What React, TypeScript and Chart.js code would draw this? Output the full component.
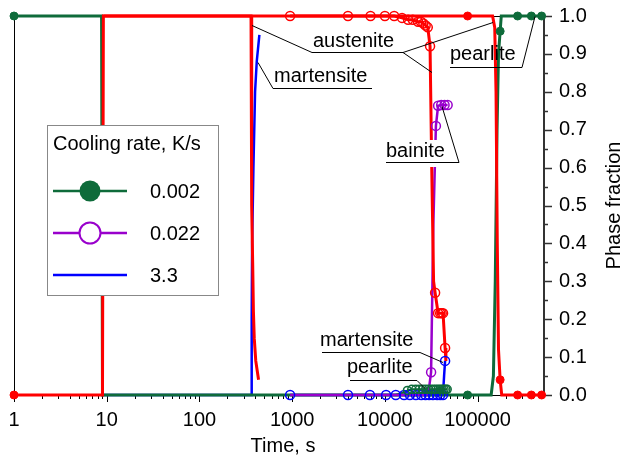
import React, { useEffect, useRef } from 'react';
import { Chart, registerables } from 'chart.js';

Chart.register(...registerables);

const FONT = '"Liberation Sans", Arial, Helvetica, sans-serif';
const RED = '#ff0000';
const GREEN = '#0e6b3a';
const PURPLE = '#9900cc';
const BLUE = '#0000ff';

// ---- axes ----
const xMin = 1;
const xMax = 520000;
const xMajorTicks = [1, 10, 100, 1000, 10000, 100000];
const xMinorMultipliers = [2, 3, 4, 5, 6, 7, 8, 9];
const yTicks = [0, 0.1, 0.2, 0.3, 0.4, 0.5, 0.6, 0.7, 0.8, 0.9, 1.0];
const yMinorTicks = [0.05, 0.15, 0.25, 0.35, 0.45, 0.55, 0.65, 0.75, 0.85, 0.95];

// ---- legend ----
const legendTitle = 'Cooling rate, K/s';
const rateLabels = ['0.002', '0.022', '3.3'];

// ---- cooling rate 0.002 K/s: austenite (red) & pearlite (green) ----
const t002Aus = [1, 9.0, 9.2, 78000, 145000, 153000, 158000, 163000, 168000, 175000, 182000, 270000, 380000, 490000];
const f002Aus = [0, 0, 1, 1, 1, 0.97, 0.8, 0.4, 0.12, 0.04, 0, 0, 0, 0];
const t002AusMk = [1, 78000, 175000, 270000, 380000, 490000];
const f002AusMk = [0, 1, 0.04, 0, 0, 0];
const t002Prl = [1, 8.8, 9.0, 78000, 140000, 148000, 155000, 162000, 168000, 175000, 180000, 270000, 380000, 490000];
const f002Prl = [1, 1, 0, 0, 0, 0.05, 0.3, 0.7, 0.9, 0.96, 1, 1, 1, 1];
const t002PrlMk = [1, 78000, 175000, 270000, 380000, 490000];
const f002PrlMk = [1, 0, 0.96, 1, 1, 1];

// ---- cooling rate 0.022 K/s ----
const t022Aus = [950, 4000, 7000, 10000, 12600, 15300, 17800, 20000, 22800, 24500, 26000, 27500, 29000, 30700, 32000, 33500, 34800, 37500, 39500, 41000, 42400, 44600, 45500];
const f022Aus = [1, 1, 1, 1, 1, 0.995, 0.99, 0.99, 0.985, 0.985, 0.98, 0.975, 0.97, 0.92, 0.6, 0.3, 0.27, 0.216, 0.216, 0.216, 0.216, 0.124, 0.09];
const t022AusMk = [950, 4000, 7000, 10000, 12600, 15300, 17800, 20000, 22800, 24500, 26000, 27500, 29000, 30700, 34800, 37500, 39500, 41000, 42400, 44600];
const f022AusMk = [1, 1, 1, 1, 1, 0.995, 0.99, 0.99, 0.985, 0.985, 0.98, 0.975, 0.97, 0.92, 0.27, 0.216, 0.216, 0.216, 0.216, 0.124];
const t022Bai = [950, 28000, 30000, 31500, 33300, 35500, 37500, 40500, 44000, 47500];
const f022Bai = [0, 0, 0.02, 0.06, 0.45, 0.71, 0.763, 0.765, 0.765, 0.765];
const t022BaiMk = [31500, 35500, 37500, 40500, 44000, 47500];
const f022BaiMk = [0.06, 0.71, 0.763, 0.765, 0.765, 0.765];
const t022Mar = [950, 42300, 43500, 44600];
const f022Mar = [0, 0, 0.05, 0.09];
const t022MarMk = [950, 4000, 6900, 10300, 13100, 16100, 18600, 21600, 24700, 27400, 30000, 33000, 36600, 39500, 42300, 44600];
const f022MarMk = [0, 0, 0, 0, 0, 0, 0, 0, 0, 0, 0, 0, 0, 0, 0, 0.09];
const t022Prl = [13000, 16500, 18000, 20000, 47000];
const f022Prl = [0, 0.008, 0.013, 0.015, 0.015];
const t022PrlMk = [17500, 19500, 21500, 23500, 25500, 27500, 29500, 31500, 33500, 35500, 37500, 39500, 41500, 43500, 45500, 47000];
const f022PrlMk = [0.012, 0.015, 0.015, 0.015, 0.015, 0.015, 0.015, 0.015, 0.015, 0.015, 0.015, 0.015, 0.015, 0.015, 0.015, 0.015];

// ---- cooling rate 3.3 K/s ----
const t33Aus = [9.2, 360, 364, 368, 375, 382, 390, 405, 434];
const f33Aus = [1, 1, 0.8, 0.5, 0.35, 0.22, 0.15, 0.09, 0.04];
const t33Mar = [9.2, 362, 366, 370, 382, 398, 415, 443];
const f33Mar = [0, 0, 0.2, 0.4, 0.6, 0.8, 0.88, 0.95];

// ---- annotation labels (text, pixel layout) ----
const annotations = [
  { text: 'austenite', x: 313, baseline: 47, ul: [312, 403, 52], leaders: [[312, 52, 252, 25], [403, 52, 493, 22], [403, 52, 432, 72]], bg: false },
  { text: 'martensite', x: 274, baseline: 82, ul: [273, 372, 88], leaders: [[273, 88, 258, 62]], bg: false },
  { text: 'pearlite', x: 450, baseline: 60, ul: [450, 522, 67], leaders: [[522, 67, 535, 16]], bg: false },
  { text: 'bainite', x: 386, baseline: 157, ul: [386, 459, 162], leaders: [[459, 162, 442, 106]], bg: true },
  { text: 'martensite', x: 320, baseline: 346, ul: [322, 420, 352], leaders: [[420, 352, 443, 362]], bg: false },
  { text: 'pearlite', x: 347, baseline: 373, ul: [350, 417, 380], leaders: [[417, 380, 425, 388]], bg: false },
];

const pts = (xs: number[], ys: number[]) => xs.map((x, i) => ({ x, y: ys[i] }));

const lineDs = (xs: number[], ys: number[], color: string, width: number) => ({
  data: pts(xs, ys),
  showLine: true,
  borderColor: color,
  borderWidth: width,
  pointRadius: 0,
  pointHoverRadius: 0,
  fill: false,
  tension: 0,
  clip: false as const,
});

const markDs = (xs: number[], ys: number[], color: string, filled: boolean, r: number) => ({
  data: pts(xs, ys),
  showLine: false,
  pointRadius: r,
  pointHoverRadius: r,
  pointBackgroundColor: filled ? color : 'rgba(0,0,0,0)',
  pointBorderColor: color,
  pointBorderWidth: filled ? 1 : 1.5,
  clip: false as const,
});

const xMinorTicks: number[] = [];
xMajorTicks.forEach((d) => xMinorMultipliers.forEach((m) => { if (m * d <= xMax) xMinorTicks.push(m * d); }));
const xAllTicks = [...xMajorTicks, ...xMinorTicks].sort((a, b) => a - b);

const decorPlugin = {
  id: 'decor',
  beforeDatasetsDraw(chart: any) {
    const { ctx, chartArea: a, scales } = chart;
    const xs = scales.x;
    const ys = scales.y;
    ctx.save();
    ctx.strokeStyle = '#000';
    ctx.lineWidth = 1;
    ctx.beginPath();
    ctx.moveTo(a.left + 0.5, a.top);
    ctx.lineTo(a.left + 0.5, a.bottom);
    ctx.moveTo(a.left, a.top + 0.5);
    ctx.lineTo(a.right, a.top + 0.5);
    ctx.moveTo(a.left, a.bottom + 0.5);
    ctx.lineTo(a.right, a.bottom + 0.5);
    xAllTicks.forEach((v) => {
      const px = Math.round(xs.getPixelForValue(v)) + 0.5;
      const len = xMajorTicks.includes(v) ? 7 : 4;
      ctx.moveTo(px, a.bottom);
      ctx.lineTo(px, a.bottom + len);
    });
    ctx.stroke();
    ctx.strokeStyle = '#333';
    ctx.beginPath();
    ctx.lineWidth = 1.5;
    yTicks.forEach((v) => {
      const py = Math.round(ys.getPixelForValue(v)) + 0.5;
      ctx.moveTo(a.right, py);
      ctx.lineTo(a.right + 8, py);
    });
    yMinorTicks.forEach((v) => {
      const py = Math.round(ys.getPixelForValue(v)) + 0.5;
      ctx.moveTo(a.right, py);
      ctx.lineTo(a.right + 4, py);
    });
    ctx.stroke();
    ctx.lineWidth = 2;
    ctx.beginPath();
    ctx.moveTo(a.right, a.top - 1);
    ctx.lineTo(a.right, a.bottom + 1);
    ctx.stroke();
    ctx.restore();
  },
  afterDraw(chart: any) {
    const { ctx, chartArea: a } = chart;
    ctx.save();
    ctx.font = `20px ${FONT}`;
    ctx.fillStyle = '#000';
    // axis titles
    ctx.textAlign = 'center';
    ctx.textBaseline = 'alphabetic';
    ctx.fillText('Time, s', (a.left + a.right) / 2 + 4, 452);
    ctx.save();
    ctx.translate(620, (a.top + a.bottom) / 2);
    ctx.rotate(-Math.PI / 2);
    ctx.fillText('Phase fraction', 0, 0);
    ctx.restore();

    // annotations
    ctx.textAlign = 'left';
    annotations.forEach((an) => {
      const w = ctx.measureText(an.text).width;
      if (an.bg) {
        ctx.fillStyle = '#fff';
        ctx.fillRect(an.x - 2, an.baseline - 17, Math.max(w + 4, an.ul[1] - an.x + 2), 27);
      }
      ctx.fillStyle = '#000';
      ctx.fillText(an.text, an.x, an.baseline);
      ctx.strokeStyle = '#000';
      ctx.lineWidth = 1;
      ctx.beginPath();
      ctx.moveTo(an.ul[0], an.ul[2] + 0.5);
      ctx.lineTo(an.ul[1], an.ul[2] + 0.5);
      an.leaders.forEach((l) => {
        ctx.moveTo(l[0], l[1] + 0.5);
        ctx.lineTo(l[2], l[3] + 0.5);
      });
      ctx.stroke();
    });

    // legend
    const lx = 47, ly = 125, lw = 171, lh = 170;
    ctx.fillStyle = '#fff';
    ctx.fillRect(lx, ly, lw, lh);
    ctx.strokeStyle = '#888';
    ctx.lineWidth = 1;
    ctx.strokeRect(lx + 0.5, ly + 0.5, lw, lh);
    ctx.fillStyle = '#000';
    ctx.textBaseline = 'alphabetic';
    ctx.fillText(legendTitle, 53, 150);
    const colors = [GREEN, PURPLE, BLUE];
    const marks = ['filled', 'open', 'none'];
    const rows = [191, 233, 275];
    rateLabels.forEach((lab, i) => {
      const y = rows[i];
      ctx.strokeStyle = colors[i];
      ctx.lineWidth = 2.5;
      ctx.beginPath();
      ctx.moveTo(53, y);
      ctx.lineTo(127, y);
      ctx.stroke();
      if (marks[i] === 'filled') {
        ctx.fillStyle = colors[i];
        ctx.beginPath();
        ctx.arc(90, y, 10.5, 0, Math.PI * 2);
        ctx.fill();
      } else if (marks[i] === 'open') {
        ctx.fillStyle = '#fff';
        ctx.lineWidth = 2;
        ctx.beginPath();
        ctx.arc(90, y, 10.5, 0, Math.PI * 2);
        ctx.fill();
        ctx.stroke();
      }
      ctx.fillStyle = '#000';
      ctx.textBaseline = 'middle';
      ctx.fillText(lab, 150, y + 1);
    });
    ctx.restore();
  },
};

export default function App() {
  const ref = useRef<HTMLCanvasElement | null>(null);
  useEffect(() => {
    if (!ref.current) return;
    const chart = new Chart(ref.current, {
      type: 'scatter',
      data: {
        datasets: [
          // markers (top)
          markDs(t022AusMk, f022AusMk, RED, false, 4.5),
          markDs(t002AusMk, f002AusMk, RED, true, 4),
          markDs(t002PrlMk, f002PrlMk, GREEN, true, 4),
          markDs(t022PrlMk, f022PrlMk, GREEN, false, 4),
          markDs(t022MarMk, f022MarMk, BLUE, false, 4.5),
          markDs(t022BaiMk, f022BaiMk, PURPLE, false, 4.5),
          // lines
          lineDs(t002Aus, f002Aus, RED, 3),
          lineDs(t022Aus, f022Aus, RED, 3),
          lineDs(t33Aus, f33Aus, RED, 3),
          lineDs(t022Bai, f022Bai, PURPLE, 2.5),
          lineDs(t002Prl, f002Prl, GREEN, 3),
          lineDs(t022Prl, f022Prl, GREEN, 2),
          lineDs(t33Mar, f33Mar, BLUE, 2.5),
          lineDs(t022Mar, f022Mar, BLUE, 2.5),
        ] as any,
      },
      options: {
        animation: false,
        responsive: false,
        events: [],
        layout: { padding: { left: 14, top: 16, right: 0, bottom: 0 } },
        plugins: { legend: { display: false }, tooltip: { enabled: false } },
        scales: {
          x: {
            type: 'logarithmic',
            min: xMin,
            max: xMax,
            afterBuildTicks: (s: any) => {
              s.ticks = xAllTicks.map((v) => ({ value: v }));
            },
            afterFit: (s: any) => {
              s.height = 62;
            },
            ticks: {
              autoSkip: false,
              maxRotation: 0,
              minRotation: 0,
              padding: 0,
              color: '#000',
              font: { family: FONT, size: 20 },
              callback: (v: any) => (xMajorTicks.includes(Number(v)) ? String(v) : ''),
            },
            grid: { display: false, drawTicks: true, tickLength: 13 },
            border: { display: false },
          },
          y: {
            position: 'right',
            min: 0,
            max: 1,
            afterBuildTicks: (s: any) => {
              s.ticks = yTicks.map((v) => ({ value: v }));
            },
            afterFit: (s: any) => {
              s.width = 77;
            },
            ticks: {
              padding: 0,
              color: '#000',
              font: { family: FONT, size: 20 },
              callback: (v: any) => Number(v).toFixed(1),
            },
            grid: { display: false, drawTicks: true, tickLength: 15 },
            border: { display: false },
          },
        },
      } as any,
      plugins: [decorPlugin],
    });
    return () => chart.destroy();
  }, []);
  return (
    <div style={{ position: 'absolute', left: 0, top: 0, width: 621, height: 457, background: '#fff' }}>
      <canvas ref={ref} width={621} height={457} style={{ display: 'block' }} />
    </div>
  );
}
